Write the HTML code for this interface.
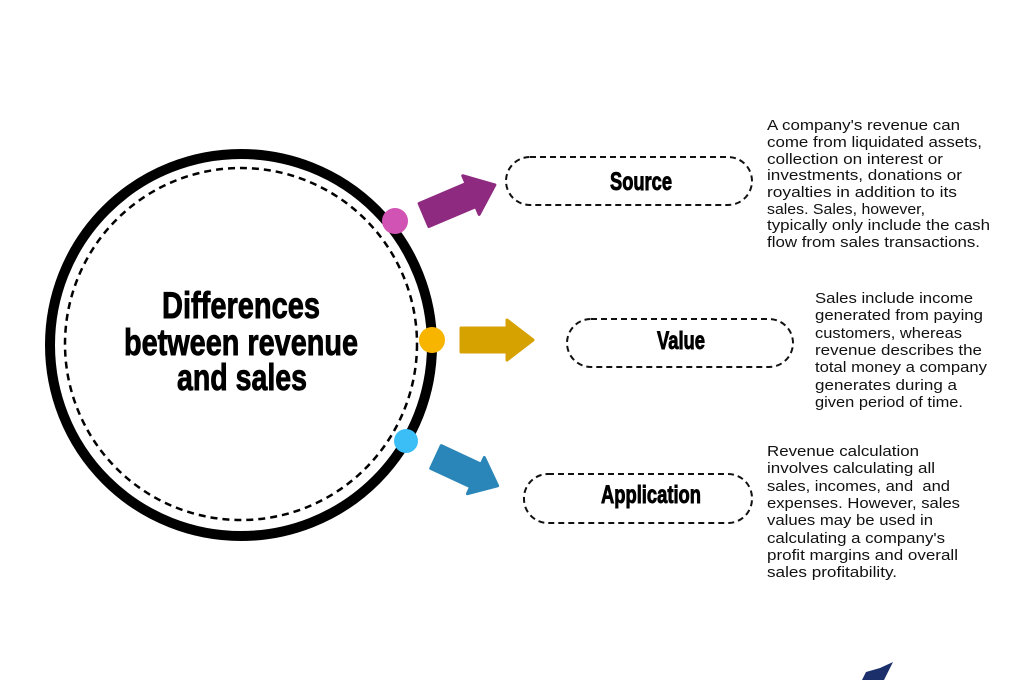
<!DOCTYPE html>
<html><head><meta charset="utf-8"><style>
html,body{margin:0;padding:0;background:#fff;}
svg{display:block;}
.t{font-family:"Liberation Sans",sans-serif;font-size:15px;fill:#111;}
.h{font-family:"Liberation Sans",sans-serif;font-weight:bold;fill:#000;stroke:#000;stroke-width:0.9;}
</style></head><body>
<svg width="1024" height="680" viewBox="0 0 1024 680" xmlns="http://www.w3.org/2000/svg">
<rect width="1024" height="680" fill="#fff"/>
<circle cx="241" cy="345" r="191" fill="none" stroke="#000" stroke-width="10"/>
<circle cx="241" cy="344" r="176" fill="none" stroke="#000" stroke-width="2.5" stroke-dasharray="7 5"/>
<text class="h" font-size="37" x="162" y="318" textLength="158" lengthAdjust="spacingAndGlyphs">Differences</text>
<text class="h" font-size="37" x="124" y="355" textLength="234" lengthAdjust="spacingAndGlyphs">between revenue</text>
<text class="h" font-size="37" x="177" y="390" textLength="130" lengthAdjust="spacingAndGlyphs">and sales</text>

<circle cx="395" cy="221" r="13" fill="#d153b4"/>
<circle cx="432" cy="340" r="13" fill="#f7b500"/>
<circle cx="406" cy="441" r="12" fill="#3bbdf5"/>

<g transform="translate(424,215) rotate(-23)" fill="#8e2a80">
<polygon points="0,-12.5 51,-12.5 51,-21 77,0 51,21 51,12.5 0,12.5" stroke="#8e2a80" stroke-width="3" stroke-linejoin="round"/>
</g>
<g fill="#d6a200">
<polygon points="461,328 507,328 507,320 533,340 507,360 507,352 461,352" stroke="#d6a200" stroke-width="3" stroke-linejoin="round"/>
</g>
<g transform="translate(436,457) rotate(25)" fill="#2a86b8">
<polygon points="0,-12.5 44,-12.5 44,-20 68,0 44,20 44,12.5 0,12.5" stroke="#2a86b8" stroke-width="3" stroke-linejoin="round"/>
</g>

<g fill="none" stroke="#111" stroke-width="2" stroke-dasharray="6 4">
<rect x="506" y="157" width="246" height="48" rx="24"/>
<rect x="567" y="319" width="226" height="48" rx="24"/>
<rect x="524" y="474" width="228" height="49" rx="24"/>
</g>
<text class="h" font-size="25" x="610" y="190" textLength="62" lengthAdjust="spacingAndGlyphs" stroke-width="0.6">Source</text>
<text class="h" font-size="25" x="657" y="349" textLength="48" lengthAdjust="spacingAndGlyphs" stroke-width="0.6">Value</text>
<text class="h" font-size="25" x="601" y="503" textLength="100" lengthAdjust="spacingAndGlyphs" stroke-width="0.6">Application</text>

<g class="t">
<text x="767" y="130" textLength="193" lengthAdjust="spacingAndGlyphs">A company's revenue can</text>
<text x="767" y="147" textLength="215" lengthAdjust="spacingAndGlyphs">come from liquidated assets,</text>
<text x="767" y="164" textLength="176" lengthAdjust="spacingAndGlyphs">collection on interest or</text>
<text x="767" y="180" textLength="195" lengthAdjust="spacingAndGlyphs">investments, donations or</text>
<text x="767" y="197" textLength="190" lengthAdjust="spacingAndGlyphs">royalties in addition to its</text>
<text x="767" y="214" textLength="158" lengthAdjust="spacingAndGlyphs">sales. Sales, however,</text>
<text x="767" y="230" textLength="223" lengthAdjust="spacingAndGlyphs">typically only include the cash</text>
<text x="767" y="247" textLength="213" lengthAdjust="spacingAndGlyphs">flow from sales transactions.</text>

<text x="815" y="303" textLength="158" lengthAdjust="spacingAndGlyphs">Sales include income</text>
<text x="815" y="320" textLength="168" lengthAdjust="spacingAndGlyphs">generated from paying</text>
<text x="815" y="338" textLength="147" lengthAdjust="spacingAndGlyphs">customers, whereas</text>
<text x="815" y="355" textLength="167" lengthAdjust="spacingAndGlyphs">revenue describes the</text>
<text x="815" y="372" textLength="172" lengthAdjust="spacingAndGlyphs">total money a company</text>
<text x="815" y="390" textLength="142" lengthAdjust="spacingAndGlyphs">generates during a</text>
<text x="815" y="407" textLength="148" lengthAdjust="spacingAndGlyphs">given period of time.</text>

<text x="767" y="456" textLength="152" lengthAdjust="spacingAndGlyphs">Revenue calculation</text>
<text x="767" y="473" textLength="168" lengthAdjust="spacingAndGlyphs">involves calculating all</text>
<text x="767" y="491" textLength="183" lengthAdjust="spacingAndGlyphs" xml:space="preserve">sales, incomes, and  and</text>
<text x="767" y="508" textLength="193" lengthAdjust="spacingAndGlyphs">expenses. However, sales</text>
<text x="767" y="525" textLength="166" lengthAdjust="spacingAndGlyphs">values may be used in</text>
<text x="767" y="543" textLength="178" lengthAdjust="spacingAndGlyphs">calculating a company's</text>
<text x="767" y="560" textLength="191" lengthAdjust="spacingAndGlyphs">profit margins and overall</text>
<text x="767" y="577" textLength="130" lengthAdjust="spacingAndGlyphs">sales profitability.</text>
</g>

<polygon points="862,680 866,672 880,668 893,662 884,680" fill="#1b2f6b"/>
</svg>
</body></html>
